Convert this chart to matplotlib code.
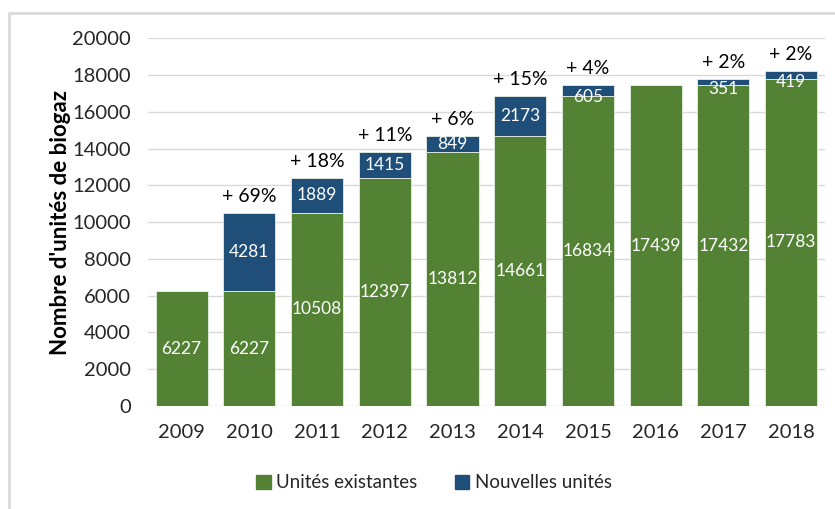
import matplotlib.pyplot as plt
from matplotlib.patches import Rectangle, Patch

# Data
years = ["2009", "2010", "2011", "2012", "2013", "2014", "2015", "2016", "2017", "2018"]
existing = [6227, 6227, 10508, 12397, 13812, 14661, 16834, 17439, 17432, 17783]
new_units = [0, 4281, 1889, 1415, 849, 2173, 605, 0, 351, 419]
growth = ["", "+ 69%", "+ 18%", "+ 11%", "+ 6%", "+ 15%", "+ 4%", "", "+ 2%", "+ 2%"]

green = "#548235"
blue = "#1f4e79"
text_col = "#262626"

plt.rcParams["font.family"] = ["Lato", "DejaVu Sans"]

fig = plt.figure(figsize=(8.35, 5.09), dpi=100)
ax = fig.add_axes([0.177, 0.2024, 0.811, 0.7226])

x = list(range(len(years)))
bars_old = ax.bar(x, existing, width=0.77, color=green, edgecolor="#e8efe2",
                  linewidth=0.6, zorder=3)
bars_new = ax.bar(x, new_units, width=0.77, bottom=existing, color=blue,
                  edgecolor="#e8efe2", linewidth=0.6, zorder=3)

# value labels inside the bars
for i in x:
    ax.text(i, existing[i] / 2, str(existing[i]), ha="center", va="center",
            color="white", fontsize=12.5, zorder=4)
    if new_units[i]:
        mid = existing[i] + new_units[i] / 2
        if new_units[i] < 700:
            mid -= 350
        ax.text(i, mid, str(new_units[i]), ha="center", va="center",
                color="white", fontsize=12.5, zorder=4)
    if growth[i]:
        ax.annotate(growth[i], (i, existing[i] + new_units[i]),
                    xytext=(0, 12), textcoords="offset points",
                    ha="center", va="center", fontsize=14, color="black")

ax.set_ylim(0, 20000)
ax.set_xlim(-0.5, len(years) - 0.5)
ax.set_yticks(range(0, 20001, 2000))
ax.set_xticks(x)
ax.set_xticklabels(years)
ax.tick_params(axis="both", length=0, labelsize=14.5, colors=text_col)
ax.tick_params(axis="x", pad=13)
ax.tick_params(axis="y", pad=12)
ax.grid(axis="y", color="#d9d9d9", linewidth=1, zorder=0)
ax.set_axisbelow(True)
for s in ax.spines.values():
    s.set_visible(False)

ax.set_ylabel("Nombre d'unités de biogaz", fontsize=16, fontweight="bold",
              color="black", labelpad=1)

handles = [Patch(color=green, label="Unités existantes"),
           Patch(color=blue, label="Nouvelles unités")]
fig.legend(handles=handles, loc="center", bbox_to_anchor=(434 / 835, 1 - 483 / 509),
           ncol=2, frameon=False, fontsize=13.5, handlelength=0.75, handleheight=0.75,
           handletextpad=0.3, columnspacing=2.0, labelcolor=text_col)

# light frame around the chart area (cut at right and bottom)
fig.patches.append(Rectangle((9 / 835, -0.1), 1.2, 1 - 13 / 509 + 0.1,
                             transform=fig.transFigure, fill=False,
                             edgecolor="#d9d9d9", linewidth=2))

fig.savefig("out.png", dpi=100)
